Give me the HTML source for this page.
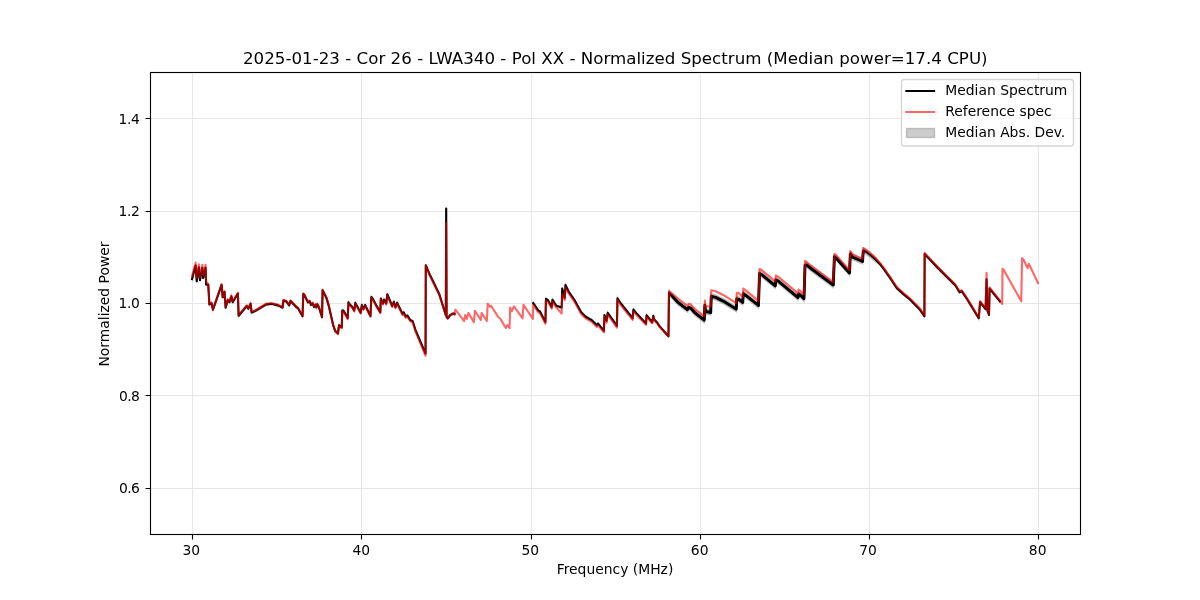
<!DOCTYPE html>
<html lang="en"><head><meta charset="utf-8"><title>Normalized Spectrum</title>
<style>html,body{margin:0;padding:0;background:#fff}body{width:1200px;height:600px;overflow:hidden}svg{display:block}text{font-family:"DejaVu Sans","Liberation Sans",sans-serif;fill:#000}</style></head><body>
<svg width="1200" height="600" viewBox="0 0 1200 600">
<rect width="1200" height="600" fill="#fff"/>
<clipPath id="ax"><rect x="150" y="72" width="930" height="462"/></clipPath>
<path d="M192.5 72V534 M361.5 72V534 M531.5 72V534 M700.5 72V534 M869.5 72V534 M1038.5 72V534 M150 488.5H1080 M150 395.5H1080 M150 303.5H1080 M150 211.5H1080 M150 118.5H1080" stroke="#b0b0b0" stroke-opacity="0.3" stroke-width="1.11" fill="none"/>
<g clip-path="url(#ax)" fill="none" stroke-linejoin="round" stroke-linecap="square">
<path d="M192.04 278.13 L195.62 264.58 L196.70 280.29 L198.87 266.21 L199.95 279.21 L202.33 266.75 L203.20 277.04 L205.59 266.75 L206.13 283.54 L208.29 283.85 L209.38 303.35 L211.54 302.27 L212.95 308.77 L221.62 283.85 L222.70 296.31 L224.54 290.89 L225.63 306.60 L227.80 299.02 L229.42 301.19 L231.37 295.23 L232.67 301.19 L237.87 292.52 L238.63 314.73 L246.76 304.98 L248.38 307.69 L250.55 302.81 L251.63 311.48 L255.42 309.85 L266.26 303.35 L271.67 302.81 L278.17 304.44 L282.51 306.60 L283.37 299.56 L286.50 300.60 L289.21 304.39 L290.51 300.06 L296.25 306.02 L297.88 307.10 L302.54 315.23 L303.29 293.02 L304.38 294.10 L307.95 301.25 L309.69 300.28 L310.99 303.85 L312.72 302.34 L314.02 305.91 L315.64 303.85 L316.29 306.56 L317.27 303.31 L319.00 306.56 L322.04 316.31 L322.58 289.23 L326.59 297.35 L328.75 304.85 L333.09 323.84 L335.25 330.09 L337.96 332.48 L339.05 324.23 L340.67 325.75 L341.76 326.29 L342.30 309.49 L343.38 309.49 L347.71 317.08 L348.47 301.37 L349.34 302.99 L352.05 305.70 L354.21 309.49 L355.30 301.91 L360.72 311.66 L361.80 304.08 L363.42 307.87 L365.05 304.08 L370.47 314.91 L371.33 295.95 L372.63 297.58 L376.42 304.62 L380.29 311.12 L380.83 297.58 L383.00 302.45 L384.08 298.66 L386.25 302.45 L387.33 293.24 L392.21 305.16 L393.84 300.83 L395.46 306.21 L397.09 301.74 L402.50 312.89 L403.59 311.26 L405.75 315.60 L407.38 314.51 L410.09 318.85 L412.80 320.47 L415.50 329.14 L425.55 352.55 L425.80 264.30 L429.60 273.30 L439.30 293.30 L445.80 313.96 L446.20 207.50 L446.60 316.00 L447.80 317.30 L450.20 314.10 L453.40 312.50 L454.60 313.20 L454.60 315.20 L453.40 314.50 L450.20 316.10 L447.80 319.30 L446.60 318.00 L446.20 209.50 L445.80 315.96 L439.30 295.30 L429.60 275.30 L425.80 266.30 L425.55 354.55 L415.50 331.14 L412.80 322.47 L410.09 320.85 L407.38 316.51 L405.75 317.60 L403.59 313.26 L402.50 314.89 L397.09 303.74 L395.46 308.21 L393.84 302.83 L392.21 307.16 L387.33 295.24 L386.25 304.45 L384.08 300.66 L383.00 304.45 L380.83 299.58 L380.29 313.12 L376.42 306.62 L372.63 299.58 L371.33 297.95 L370.47 316.91 L365.05 306.08 L363.42 309.87 L361.80 306.08 L360.72 313.66 L355.30 303.91 L354.21 311.49 L352.05 307.70 L349.34 304.99 L348.47 303.37 L347.71 319.08 L343.38 311.49 L342.30 311.49 L341.76 328.29 L340.67 327.75 L339.05 326.23 L337.96 334.48 L335.25 332.09 L333.09 325.84 L328.75 306.85 L326.59 299.35 L322.58 291.23 L322.04 318.31 L319.00 308.56 L317.27 305.31 L316.29 308.56 L315.64 305.85 L314.02 307.91 L312.72 304.34 L310.99 305.85 L309.69 302.28 L307.95 303.25 L304.38 296.10 L303.29 295.02 L302.54 317.23 L297.88 309.10 L296.25 308.02 L290.51 302.06 L289.21 306.39 L286.50 302.60 L283.37 301.56 L282.51 308.60 L278.17 306.44 L271.67 304.81 L266.26 305.35 L255.42 311.85 L251.63 313.48 L250.55 304.81 L248.38 309.69 L246.76 306.98 L238.63 316.73 L237.87 294.52 L232.67 303.19 L231.37 297.23 L229.42 303.19 L227.80 301.02 L225.63 308.60 L224.54 292.89 L222.70 298.31 L221.62 285.85 L212.95 310.77 L211.54 304.27 L209.38 305.35 L208.29 285.85 L206.13 285.54 L205.59 268.75 L203.20 279.04 L202.33 268.75 L199.95 281.21 L198.87 268.21 L196.70 282.29 L195.62 266.58 L192.04 280.13Z" fill="#808080" fill-opacity="0.4" stroke="#808080" stroke-opacity="0.4" stroke-width="1.39" stroke-linejoin="miter"/>
<path d="M533.21 302.09 L538.30 309.68 L539.92 310.44 L545.42 321.05 L545.96 297.76 L548.13 299.39 L551.70 305.89 L552.46 298.84 L556.25 304.80 L561.67 306.46 L562.21 287.56 L564.70 297.22 L565.46 283.96 L568.71 290.72 L574.67 299.39 L581.17 311.30 L585.50 315.64 L592.00 319.43 L596.88 324.30 L597.96 322.68 L603.92 329.72 L604.46 314.01 L606.63 319.97 L607.71 311.84 L616.92 324.85 L617.46 297.22 L620.17 301.55 L632.63 317.26 L633.39 308.59 L636.50 312.39 L646.03 322.50 L646.58 314.40 L652.21 321.24 L653.29 314.80 L654.38 318.66 L657.09 321.53 L659.25 324.91 L668.46 335.21 L669.00 289.91 L671.17 292.38 L677.67 299.49 L687.42 307.08 L688.50 304.91 L690.67 305.45 L695.01 310.33 L704.21 317.63 L704.86 302.70 L705.51 308.91 L710.72 309.87 L711.26 293.72 L715.59 294.82 L722.09 298.03 L723.25 298.48 L736.25 306.51 L736.79 296.22 L738.96 296.74 L742.75 299.80 L743.29 291.05 L745.46 292.59 L758.46 302.88 L759.54 270.88 L761.71 271.94 L775.25 283.25 L775.80 277.29 L777.96 278.36 L798.01 295.07 L798.55 291.27 L800.17 292.35 L803.97 296.12 L805.05 262.47 L806.67 262.31 L810.00 265.17 L833.29 282.38 L834.38 254.21 L836.54 255.82 L849.54 270.38 L850.30 251.41 L852.80 254.65 L862.55 258.81 L863.30 247.81 L865.25 248.67 L869.59 251.71 L875.01 256.35 L880.42 263.58 L884.76 269.31 L890.72 277.96 L896.67 286.94 L903.17 292.88 L910.00 298.49 L919.50 308.17 L924.38 315.20 L924.67 253.07 L937.92 266.95 L955.25 284.24 L959.59 291.27 L961.76 290.18 L967.17 298.29 L978.76 317.22 L980.10 301.11 L985.60 308.00 L986.56 278.30 L987.50 309.90 L989.00 314.00 L989.60 287.60 L999.90 300.40 L999.90 302.40 L989.60 289.60 L989.00 316.00 L987.50 311.90 L986.56 280.30 L985.60 310.00 L980.10 303.11 L978.76 319.22 L967.17 300.29 L961.76 292.18 L959.59 293.27 L955.25 286.24 L937.92 268.95 L924.67 255.07 L924.38 317.20 L919.50 310.17 L910.00 300.49 L903.17 294.88 L896.67 288.94 L890.72 279.96 L884.76 271.31 L880.42 265.58 L875.01 261.55 L869.59 256.91 L865.25 253.87 L863.30 253.01 L862.55 264.01 L852.80 259.85 L850.30 256.61 L849.54 275.58 L836.54 261.02 L834.38 259.41 L833.29 287.58 L810.00 270.37 L806.67 267.51 L805.05 267.67 L803.97 301.32 L800.17 297.55 L798.55 296.47 L798.01 300.27 L777.96 283.56 L775.80 282.49 L775.25 288.45 L761.71 277.14 L759.54 276.08 L758.46 308.08 L745.46 297.79 L743.29 296.25 L742.75 305.00 L738.96 301.94 L736.79 301.42 L736.25 311.71 L723.25 303.68 L722.09 303.23 L715.59 300.02 L711.26 298.92 L710.72 315.07 L705.51 314.11 L704.86 307.90 L704.21 322.83 L695.01 315.53 L690.67 310.65 L688.50 310.11 L687.42 312.28 L677.67 304.69 L671.17 297.58 L669.00 295.11 L668.46 337.21 L659.25 326.91 L657.09 323.53 L654.38 320.66 L653.29 316.80 L652.21 323.24 L646.58 316.40 L646.03 324.50 L636.50 314.39 L633.39 310.59 L632.63 319.26 L620.17 303.55 L617.46 299.22 L616.92 326.85 L607.71 313.84 L606.63 321.97 L604.46 316.01 L603.92 331.72 L597.96 324.68 L596.88 326.30 L592.00 321.43 L585.50 317.64 L581.17 313.30 L574.67 301.39 L568.71 292.72 L565.46 285.96 L564.70 299.22 L562.21 289.56 L561.67 308.46 L556.25 306.80 L552.46 300.84 L551.70 307.89 L548.13 301.39 L545.96 299.76 L545.42 323.05 L539.92 312.44 L538.30 311.68 L533.21 304.09Z" fill="#808080" fill-opacity="0.4" stroke="#808080" stroke-opacity="0.4" stroke-width="1.39" stroke-linejoin="miter"/>
<path d="M192.04 279.13 L195.62 265.58 L196.70 281.29 L198.87 267.21 L199.95 280.21 L202.33 267.75 L203.20 278.04 L205.59 267.75 L206.13 284.54 L208.29 284.85 L209.38 304.35 L211.54 303.27 L212.95 309.77 L221.62 284.85 L222.70 297.31 L224.54 291.89 L225.63 307.60 L227.80 300.02 L229.42 302.19 L231.37 296.23 L232.67 302.19 L237.87 293.52 L238.63 315.73 L246.76 305.98 L248.38 308.69 L250.55 303.81 L251.63 312.48 L255.42 310.85 L266.26 304.35 L271.67 303.81 L278.17 305.44 L282.51 307.60 L283.37 300.56 L286.50 301.60 L289.21 305.39 L290.51 301.06 L296.25 307.02 L297.88 308.10 L302.54 316.23 L303.29 294.02 L304.38 295.10 L307.95 302.25 L309.69 301.28 L310.99 304.85 L312.72 303.34 L314.02 306.91 L315.64 304.85 L316.29 307.56 L317.27 304.31 L319.00 307.56 L322.04 317.31 L322.58 290.23 L326.59 298.35 L328.75 305.85 L333.09 324.84 L335.25 331.09 L337.96 333.48 L339.05 325.23 L340.67 326.75 L341.76 327.29 L342.30 310.49 L343.38 310.49 L347.71 318.08 L348.47 302.37 L349.34 303.99 L352.05 306.70 L354.21 310.49 L355.30 302.91 L360.72 312.66 L361.80 305.08 L363.42 308.87 L365.05 305.08 L370.47 315.91 L371.33 296.95 L372.63 298.58 L376.42 305.62 L380.29 312.12 L380.83 298.58 L383.00 303.45 L384.08 299.66 L386.25 303.45 L387.33 294.24 L392.21 306.16 L393.84 301.83 L395.46 307.21 L397.09 302.74 L402.50 313.89 L403.59 312.26 L405.75 316.60 L407.38 315.51 L410.09 319.85 L412.80 321.47 L415.50 330.14 L425.55 353.55 L425.80 265.30 L429.60 274.30 L439.30 294.30 L445.80 314.96 L446.20 208.50 L446.60 317.00 L447.80 318.30 L450.20 315.10 L453.40 313.50 L454.60 314.20" stroke="#000" stroke-width="2.08"/>
<path d="M533.21 303.09 L538.30 310.68 L539.92 311.44 L545.42 322.05 L545.96 298.76 L548.13 300.39 L551.70 306.89 L552.46 299.84 L556.25 305.80 L561.67 307.46 L562.21 288.56 L564.70 298.22 L565.46 284.96 L568.71 291.72 L574.67 300.39 L581.17 312.30 L585.50 316.64 L592.00 320.43 L596.88 325.30 L597.96 323.68 L603.92 330.72 L604.46 315.01 L606.63 320.97 L607.71 312.84 L616.92 325.85 L617.46 298.22 L620.17 302.55 L632.63 318.26 L633.39 309.59 L636.50 313.39 L646.03 323.50 L646.58 315.40 L652.21 322.24 L653.29 315.80 L654.38 319.66 L657.09 322.53 L659.25 325.91 L668.46 336.21 L669.00 292.51 L671.17 294.98 L677.67 302.09 L687.42 309.68 L688.50 307.51 L690.67 308.05 L695.01 312.93 L704.21 320.23 L704.86 305.30 L705.51 311.51 L710.72 312.47 L711.26 296.32 L715.59 297.42 L722.09 300.63 L723.25 301.08 L736.25 309.11 L736.79 298.82 L738.96 299.34 L742.75 302.40 L743.29 293.65 L745.46 295.19 L758.46 305.48 L759.54 273.48 L761.71 274.54 L775.25 285.85 L775.80 279.89 L777.96 280.96 L798.01 297.67 L798.55 293.87 L800.17 294.95 L803.97 298.72 L805.05 265.07 L806.67 264.91 L810.00 267.77 L833.29 284.98 L834.38 256.81 L836.54 258.42 L849.54 272.98 L850.30 254.01 L852.80 257.25 L862.55 261.41 L863.30 250.41 L865.25 251.27 L869.59 254.31 L875.01 258.95 L880.42 264.58 L884.76 270.31 L890.72 278.96 L896.67 287.94 L903.17 293.88 L910.00 299.49 L919.50 309.17 L924.38 316.20 L924.67 254.07 L937.92 267.95 L955.25 285.24 L959.59 292.27 L961.76 291.18 L967.17 299.29 L978.76 318.22 L980.10 302.11 L985.60 309.00 L986.56 279.30 L987.50 310.90 L989.00 315.00 L989.60 288.60 L999.90 301.40" stroke="#000" stroke-width="2.08"/>
<path d="M671.17 294.98 L677.67 302.09 L687.42 309.68 L688.50 307.51 L690.67 308.05 L695.01 312.93 L704.21 320.23 L704.86 305.30 L705.51 311.51 L710.72 312.47 L711.26 296.32 L715.59 297.42 L722.09 300.63 L723.25 301.08 L736.25 309.11 L736.79 298.82 L738.96 299.34 L742.75 302.40 L743.29 293.65 L745.46 295.19 L758.46 305.48 L759.54 273.48 L761.71 274.54 L775.25 285.85 L775.80 279.89 L777.96 280.96 L798.01 297.67 L798.55 293.87 L800.17 294.95 L803.97 298.72 L805.05 265.07 L806.67 264.91 L810.00 267.77 L833.29 284.98 L834.38 256.81 L836.54 258.42 L849.54 272.98 L850.30 254.01 L852.80 257.25 L862.55 261.41 L863.30 250.41" stroke="#000" stroke-width="2.9" stroke-linecap="butt"/>
<path d="M192.04 276.13 L195.62 262.58 L196.70 278.29 L198.87 264.21 L199.95 277.21 L202.33 264.75 L203.20 275.04 L205.59 264.75 L206.13 281.54 L208.29 284.25 L209.38 303.75 L211.54 302.67 L212.95 309.17 L221.62 284.25 L222.70 296.71 L224.54 291.29 L225.63 307.00 L227.80 299.42 L229.42 301.59 L231.37 295.63 L232.67 301.59 L237.87 292.92 L238.63 315.13 L246.76 305.38 L248.38 308.09 L250.55 303.21 L251.63 311.88 L255.42 310.25 L266.26 303.75 L271.67 303.21 L278.17 304.84 L282.51 307.00 L283.37 299.96 L286.50 301.00 L289.21 304.79 L290.51 300.46 L296.25 306.42 L297.88 307.50 L302.54 315.63 L303.29 293.42 L304.38 294.50 L307.95 301.65 L309.69 300.68 L310.99 304.25 L312.72 302.74 L314.02 306.31 L315.64 304.25 L316.29 306.96 L317.27 303.71 L319.00 306.96 L322.04 316.71 L322.58 289.63 L326.59 297.75 L328.75 305.34 L333.09 324.84 L335.25 331.34 L337.96 334.05 L339.05 325.92 L340.67 327.55 L341.76 328.09 L342.30 311.29 L343.38 311.29 L347.71 318.88 L348.47 303.17 L349.34 304.79 L352.05 307.50 L354.21 311.29 L355.30 303.71 L360.72 313.46 L361.80 305.88 L363.42 309.67 L365.05 305.88 L370.47 316.71 L371.33 297.75 L372.63 299.38 L376.42 306.42 L380.29 312.92 L380.83 299.38 L383.00 304.25 L384.08 300.46 L386.25 304.25 L387.33 295.04 L392.21 306.96 L393.84 302.63 L395.46 308.04 L397.09 303.71 L402.50 315.09 L403.59 313.46 L405.75 317.80 L407.38 316.71 L410.09 321.05 L412.80 322.67 L415.50 331.34 L425.55 355.80 L425.80 265.30 L429.60 275.00 L439.30 295.00 L445.80 315.10 L446.20 223.00 L446.60 317.00 L447.80 318.30 L450.20 315.10 L453.40 313.50 L454.60 314.20 L455.42 309.67 L464.08 321.05 L465.17 315.09 L466.79 318.88 L468.42 312.92 L473.84 322.13 L474.92 310.75 L480.88 319.96 L481.64 312.92 L486.84 321.05 L487.70 303.71 L489.87 306.64 L490.95 305.77 L492.47 308.04 L497.67 316.17 L500.38 318.88 L505.80 328.09 L507.42 324.84 L509.59 328.09 L510.13 307.50 L511.76 311.29 L513.92 306.42 L522.59 318.34 L523.46 304.79 L532.88 318.88 L533.21 304.79 L538.30 312.38 L539.92 313.14 L545.42 323.75 L545.96 300.46 L548.13 302.09 L551.70 308.59 L552.46 301.54 L556.25 307.50 L561.67 313.46 L562.21 293.96 L564.70 299.92 L565.46 287.46 L568.71 293.42 L574.67 302.09 L581.17 314.00 L585.50 318.34 L592.00 322.13 L596.88 327.00 L597.96 325.38 L603.92 332.42 L604.46 316.71 L606.63 322.67 L607.71 314.54 L616.92 327.55 L617.46 299.92 L620.17 304.25 L632.63 319.96 L633.39 311.29 L636.50 315.09 L646.03 324.84 L646.58 316.71 L652.21 323.21 L653.29 316.71 L654.38 320.50 L657.09 323.21 L659.25 326.46 L668.46 336.21 L669.00 291.25 L671.17 292.88 L677.67 298.29 L687.42 305.88 L688.50 303.71 L690.67 304.25 L695.01 309.13 L704.21 316.17 L704.86 300.46 L705.51 306.42 L710.72 306.42 L711.26 290.17 L715.59 291.25 L722.09 294.50 L723.25 294.96 L736.25 303.09 L736.79 292.80 L738.96 293.34 L742.75 297.13 L743.29 288.46 L745.46 290.09 L758.46 300.92 L759.54 268.96 L761.71 270.04 L775.25 281.42 L775.80 275.46 L777.96 276.54 L798.01 293.34 L798.55 289.54 L800.17 290.63 L803.97 294.42 L805.05 260.83 L806.67 261.92 L810.00 264.79 L833.29 282.13 L834.38 253.96 L836.54 255.59 L849.54 270.21 L850.30 251.25 L852.80 254.50 L862.55 258.84 L863.30 248.00 L865.25 249.30 L869.59 252.66 L875.01 257.54 L880.42 263.39 L884.76 269.13 L890.72 277.80 L896.67 286.79 L903.17 292.75 L910.00 298.38 L919.50 308.09 L924.38 315.13 L924.67 253.00 L937.92 266.92 L955.25 284.25 L959.59 291.29 L961.76 290.21 L967.17 298.34 L978.76 317.30 L980.10 301.20 L985.60 308.10 L986.56 272.80 L987.50 310.00 L989.00 314.10 L989.60 287.50 L999.90 300.30 L1002.20 304.00 L1002.50 268.75 L1003.75 270.00 L1021.25 301.25 L1022.10 258.10 L1023.75 260.00 L1027.50 268.10 L1028.75 263.75 L1038.10 283.10" stroke="#f00" stroke-opacity="0.6" stroke-width="2.08"/>
</g>
<path d="M192.5 534.5v5 M361.5 534.5v5 M531.5 534.5v5 M700.5 534.5v5 M869.5 534.5v5 M1038.5 534.5v5 M150.5 488.5h-5 M150.5 395.5h-5 M150.5 303.5h-5 M150.5 211.5h-5 M150.5 118.5h-5" stroke="#000" stroke-width="1.11" fill="none"/>
<rect x="150.5" y="72.5" width="930" height="462" fill="none" stroke="#000" stroke-width="1.11"/>
<text x="191.30" y="555" font-size="13.889" text-anchor="middle">30</text>
<text x="361.30" y="555" font-size="13.889" text-anchor="middle">40</text>
<text x="530.35" y="555" font-size="13.889" text-anchor="middle">50</text>
<text x="699.70" y="555" font-size="13.889" text-anchor="middle">60</text>
<text x="868.00" y="555" font-size="13.889" text-anchor="middle">70</text>
<text x="1037.70" y="555" font-size="13.889" text-anchor="middle">80</text>
<text x="139.9" y="493" font-size="13.889" text-anchor="end" textLength="20.8" lengthAdjust="spacing">0.6</text>
<text x="139.9" y="401" font-size="13.889" text-anchor="end" textLength="20.8" lengthAdjust="spacing">0.8</text>
<text x="139.9" y="308" font-size="13.889" text-anchor="end" textLength="21.3" lengthAdjust="spacing">1.0</text>
<text x="139.9" y="216" font-size="13.889" text-anchor="end" textLength="21.3" lengthAdjust="spacing">1.2</text>
<text x="139.9" y="124" font-size="13.889" text-anchor="end" textLength="21.3" lengthAdjust="spacing">1.4</text>
<text x="615" y="574" font-size="13.889" text-anchor="middle">Frequency (MHz)</text>
<text transform="translate(109.4 304) rotate(-90)" font-size="13.889" text-anchor="middle">Normalized Power</text>
<text x="615.3" y="63.6" font-size="16.667" text-anchor="middle" textLength="744.6" lengthAdjust="spacing">2025-01-23 - Cor 26 - LWA340 - Pol XX - Normalized Spectrum (Median power=17.4 CPU)</text>
<rect x="901.5" y="79.5" width="172" height="66.5" rx="2.78" ry="2.78" fill="#fff" fill-opacity="0.8" stroke="#ccc" stroke-opacity="0.8" stroke-width="1.39"/>
<path d="M906.36 91H934.14" stroke="#000" stroke-width="2" stroke-linecap="square"/>
<path d="M906.36 112H934.14" stroke="#f00" stroke-opacity="0.6" stroke-width="2" stroke-linecap="square"/>
<rect x="906.5" y="128.5" width="28" height="9" fill="#808080" fill-opacity="0.4" stroke="#808080" stroke-opacity="0.4" stroke-width="1.39"/>
<text x="945.25" y="95" font-size="13.889">Median Spectrum</text>
<text x="945.25" y="116.44" font-size="13.889">Reference spec</text>
<text x="945.25" y="137.39" font-size="13.889">Median Abs. Dev.</text>
</svg></body></html>
